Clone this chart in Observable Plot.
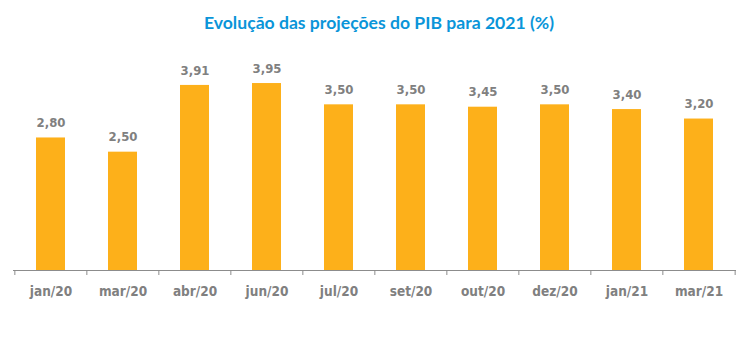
<!DOCTYPE html>
<html>
<head>
<meta charset="utf-8">
<script src="https://cdn.jsdelivr.net/npm/d3@7"></script>
<script src="https://cdn.jsdelivr.net/npm/@observablehq/plot@0.6"></script>
<style>
  body { margin: 0; background: #fff; }
  #title { height: 44px; line-height: 46px; text-align: center; font-family: Lato, "Open Sans", sans-serif; font-weight: bold; font-size: 17.6px; color: #0A95D9; padding-left: 8px; }
  #chart svg { display: block; }
</style>
</head>
<body>
<div id="title">Evolução das projeções do PIB para 2021 (%)</div>
<div id="chart"></div>
<script>
const categories = ["jan/20", "mar/20", "abr/20", "jun/20", "jul/20", "set/20", "out/20", "dez/20", "jan/21", "mar/21"];
const values = [2.80, 2.50, 3.91, 3.95, 3.50, 3.50, 3.45, 3.50, 3.40, 3.20];
const valueLabels = ["2,80", "2,50", "3,91", "3,95", "3,50", "3,50", "3,45", "3,50", "3,40", "3,20"];

const data = categories.map((c, i) => ({cat: c, v: values[i], label: valueLabels[i]}));

const W = 750, H = 311, mL = 13, mR = 14, mT = 13, mB = 85;
const step = (W - mL - mR) / categories.length;
const tickLen = 5 / ((H - mT - mB) / 4.5);

const chart = Plot.plot({
  width: W, height: H,
  marginLeft: mL, marginRight: mR, marginTop: mT, marginBottom: mB,
  x: {domain: categories, paddingInner: 0.6, paddingOuter: 0.3, axis: null},
  y: {domain: [0, 4.5], axis: null},
  style: {fontFamily: "'DejaVu Sans Condensed', 'DejaVu Sans', sans-serif", fontStretch: "condensed"},
  marks: [
    Plot.barY(data, {x: "cat", y: "v", fill: "#FDB01A"}),
    Plot.ruleY([0], {stroke: "#8C8C8C", strokeWidth: 1}),
    Plot.ruleX(categories, {x: d => d, dx: -step / 2, y1: 0, y2: -tickLen, stroke: "#8C8C8C"}),
    Plot.ruleX([categories[categories.length - 1]], {x: d => d, dx: step / 2, y1: 0, y2: -tickLen, stroke: "#8C8C8C"}),
    Plot.text(data, {x: "cat", y: "v", text: "label", dy: -15, lineAnchor: "middle", fill: "#808080", fontWeight: "bold", fontSize: 13}),
    Plot.text(data, {x: "cat", y: 0, text: "cat", dy: 21.5, lineAnchor: "middle", fill: "#808080", fontWeight: "bold", fontSize: 13.5})
  ]
});
document.getElementById("chart").appendChild(chart);
</script>
</body>
</html>
